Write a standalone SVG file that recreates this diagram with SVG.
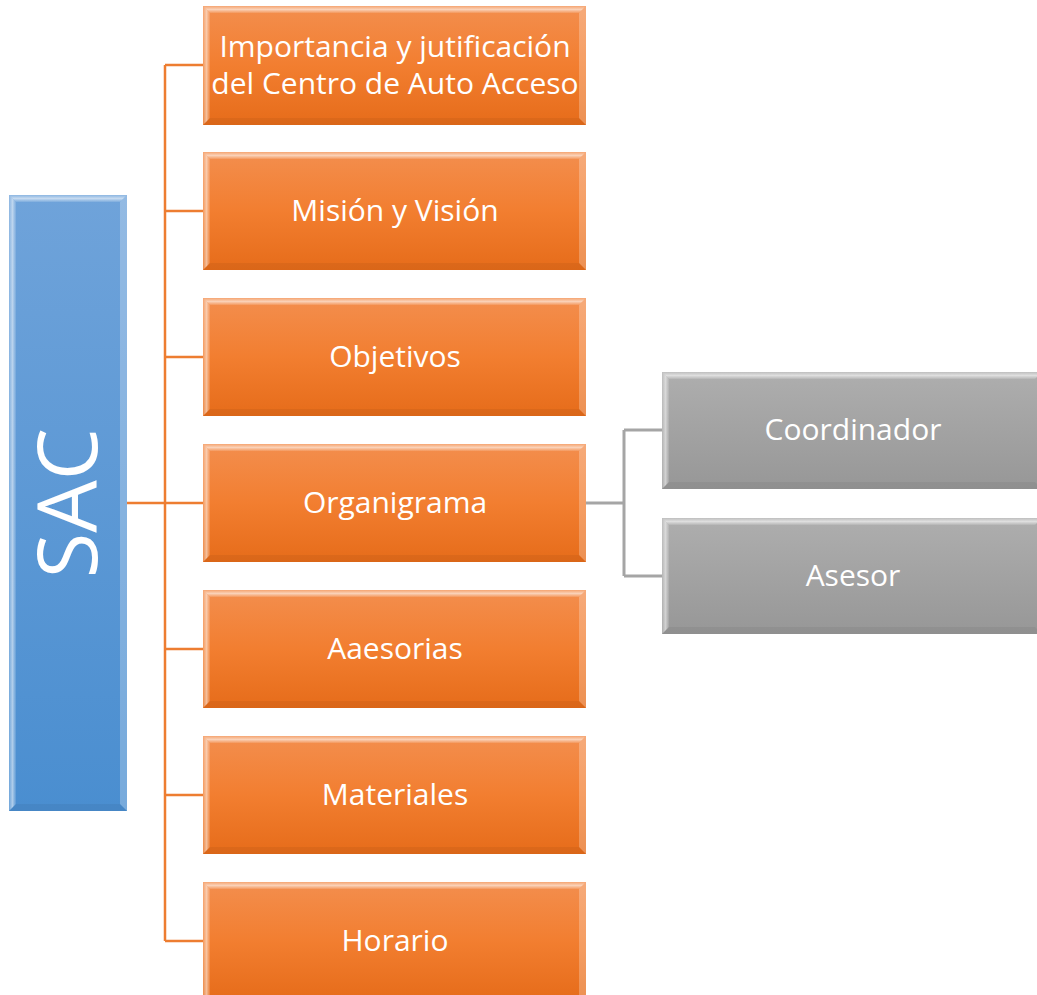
<svg xmlns="http://www.w3.org/2000/svg" width="1037" height="995" viewBox="0 0 1037 995">
<defs>
<linearGradient id="gO" x1="0" y1="0" x2="0" y2="1"><stop offset="0" stop-color="#F38E4E"/><stop offset="0.5" stop-color="#F27E30"/><stop offset="1" stop-color="#E66C1A"/></linearGradient>
<linearGradient id="gG" x1="0" y1="0" x2="0" y2="1"><stop offset="0" stop-color="#AEAEAE"/><stop offset="1" stop-color="#979797"/></linearGradient>
<linearGradient id="gB" x1="0" y1="0" x2="0" y2="1"><stop offset="0" stop-color="#6FA3DA"/><stop offset="1" stop-color="#4A8ED0"/></linearGradient>
<linearGradient id="bevL" x1="0" y1="0" x2="1" y2="0"><stop offset="0" stop-color="#fff" stop-opacity="0.2"/><stop offset="0.5" stop-color="#fff" stop-opacity="0.55"/><stop offset="1" stop-color="#fff" stop-opacity="0.1"/></linearGradient>
<linearGradient id="bevT" x1="0" y1="0" x2="0" y2="1"><stop offset="0" stop-color="#fff" stop-opacity="0.2"/><stop offset="0.5" stop-color="#fff" stop-opacity="0.6"/><stop offset="1" stop-color="#fff" stop-opacity="0.1"/></linearGradient>
</defs>
<style>
.t{font-family:"Open Sans","Liberation Sans",sans-serif;font-size:30px;fill:#fff;text-anchor:middle}
.co{fill:none;stroke:#ED7D31;stroke-width:2.5}
.cg{fill:none;stroke:#A5A5A5;stroke-width:3}
.bl{fill:url(#bevL)}
.bt{fill:url(#bevT)}
.bd{fill:#000;fill-opacity:0.05}
.br{fill:#fff;fill-opacity:0.25}
</style>
<g id="connectors">
<path class="co" d="M127 503 H203 M165 65 V941 M165 65 H203 M165 211 H203 M165 357 H203 M165 649 H203 M165 795 H203 M165 941 H203"/>
<path class="cg" d="M586 503 H624 M624 430 V576 M624 430 H662 M624 576 H662"/>
</g>
<g id="sac">
<rect x="9" y="195" width="118" height="616" fill="url(#gB)"/>
<polygon class="bt" points="9,195 127,195 120,202 16,202"/>
<polygon class="bl" points="9,195 16,202 16,804 9,811"/>
<polygon class="br" points="127,195 127,811 120,804 120,202"/>
<polygon class="bd" points="9,811 127,811 120,804 16,804"/>
<text x="68" y="503" transform="rotate(-90 68 503)" dy="29" style="font-family:'Open Sans','Liberation Sans',sans-serif;font-size:83px;fill:#fff;text-anchor:middle">SAC</text>
</g>
<g id="n1">
<rect x="203" y="6" width="383" height="119" fill="url(#gO)"/>
<polygon class="bt" points="203,6 586,6 579,13 210,13"/><polygon class="bl" points="203,6 210,13 210,118 203,125"/><polygon class="br" points="586,6 586,125 579,118 579,13"/><polygon class="bd" points="203,125 586,125 579,118 210,118"/>
<text class="t" x="395" y="57">Importancia y jutificación</text>
<text class="t" x="395" y="94">del Centro de Auto Acceso</text>
</g>
<g id="n2">
<rect x="203" y="152" width="383" height="118" fill="url(#gO)"/>
<polygon class="bt" points="203,152 586,152 579,159 210,159"/><polygon class="bl" points="203,152 210,159 210,263 203,270"/><polygon class="br" points="586,152 586,270 579,263 579,159"/><polygon class="bd" points="203,270 586,270 579,263 210,263"/>
<text class="t" x="395" y="221">Misión y Visión</text>
</g>
<g id="n3">
<rect x="203" y="298" width="383" height="118" fill="url(#gO)"/>
<polygon class="bt" points="203,298 586,298 579,305 210,305"/><polygon class="bl" points="203,298 210,305 210,409 203,416"/><polygon class="br" points="586,298 586,416 579,409 579,305"/><polygon class="bd" points="203,416 586,416 579,409 210,409"/>
<text class="t" x="395" y="367">Objetivos</text>
</g>
<g id="n4">
<rect x="203" y="444" width="383" height="118" fill="url(#gO)"/>
<polygon class="bt" points="203,444 586,444 579,451 210,451"/><polygon class="bl" points="203,444 210,451 210,555 203,562"/><polygon class="br" points="586,444 586,562 579,555 579,451"/><polygon class="bd" points="203,562 586,562 579,555 210,555"/>
<text class="t" x="395" y="513">Organigrama</text>
</g>
<g id="n5">
<rect x="203" y="590" width="383" height="118" fill="url(#gO)"/>
<polygon class="bt" points="203,590 586,590 579,597 210,597"/><polygon class="bl" points="203,590 210,597 210,701 203,708"/><polygon class="br" points="586,590 586,708 579,701 579,597"/><polygon class="bd" points="203,708 586,708 579,701 210,701"/>
<text class="t" x="395" y="659">Aaesorias</text>
</g>
<g id="n6">
<rect x="203" y="736" width="383" height="118" fill="url(#gO)"/>
<polygon class="bt" points="203,736 586,736 579,743 210,743"/><polygon class="bl" points="203,736 210,743 210,847 203,854"/><polygon class="br" points="586,736 586,854 579,847 579,743"/><polygon class="bd" points="203,854 586,854 579,847 210,847"/>
<text class="t" x="395" y="805">Materiales</text>
</g>
<g id="n7">
<rect x="203" y="882" width="383" height="118" fill="url(#gO)"/>
<polygon class="bt" points="203,882 586,882 579,889 210,889"/><polygon class="bl" points="203,882 210,889 210,1000 203,1000"/><polygon class="br" points="586,882 586,1000 579,1000 579,889"/>
<text class="t" x="395" y="951">Horario</text>
</g>
<g id="g1">
<rect x="662" y="372" width="380" height="117" fill="url(#gG)"/>
<polygon class="bt" points="662,372 1042,372 1035,379 669,379"/><polygon class="bl" points="662,372 669,379 669,482 662,489"/><polygon class="bd" points="662,489 1042,489 1035,482 669,482"/>
<text class="t" x="853" y="440">Coordinador</text>
</g>
<g id="g2">
<rect x="662" y="518" width="380" height="116" fill="url(#gG)"/>
<polygon class="bt" points="662,518 1042,518 1035,525 669,525"/><polygon class="bl" points="662,518 669,525 669,627 662,634"/><polygon class="bd" points="662,634 1042,634 1035,627 669,627"/>
<text class="t" x="853" y="586">Asesor</text>
</g>
</svg>
